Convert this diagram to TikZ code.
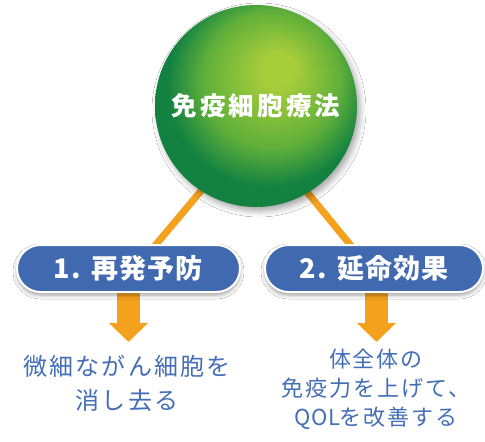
\documentclass[tikz,border=0pt]{standalone}
\usepackage{fontspec}
\newfontfamily\jp[LetterSpace=4]{Noto Sans CJK JP}
\newfontfamily\jptitle[LetterSpace=12]{Noto Sans CJK JP}
\newfontfamily\jpcapL[LetterSpace=9]{Noto Sans CJK JP}
\newfontfamily\jpcapR[LetterSpace=9]{Noto Sans CJK JP}
\usetikzlibrary{arrows.meta,shadows.blur,backgrounds}
\definecolor{ballin}{HTML}{A8CD3A}
\definecolor{ballmid}{HTML}{5FAF3A}
\definecolor{ballout}{HTML}{138241}
\definecolor{pillblue}{HTML}{4169B0}
\definecolor{orangec}{HTML}{F4A11E}
\definecolor{textblue}{HTML}{446FB6}
\pgfdeclareradialshading{greenball}{\pgfpoint{6bp}{10bp}}{color(0bp)=(ballin); color(4bp)=(ballin); color(17bp)=(ballmid); color(25bp)=(ballout); color(50bp)=(ballout)}
\begin{document}
\begin{tikzpicture}[x=1pt,y=-1pt,
  ball/.style={circle, minimum size=202pt, inner sep=0pt, shading=greenball, text=white,
    font=\jptitle\bfseries\fontsize{25.5}{30}\selectfont,
    blur shadow={shadow xshift=3pt, shadow yshift=-4pt, shadow blur radius=6pt, shadow opacity=35}},
  pill/.style={rounded corners=23.5pt, fill=pillblue, draw=white, line width=2pt,
    minimum height=47pt, inner sep=0pt, text=white,
    font=\jp\bfseries\fontsize{27}{30}\selectfont,
    blur shadow={shadow xshift=0pt, shadow yshift=-3pt, shadow blur radius=4pt, shadow opacity=40}},
  conn/.style={draw=orangec, line width=7pt},
  bigarrow/.style={draw=orangec, fill=orangec, line width=23pt, -{Triangle[width=38pt,length=19pt]}},
  caption/.style={text=textblue, align=center, inner sep=0pt}
]
\useasboundingbox (0,0) rectangle (485,442);
\node[ball] (center) at (256,106) {免疫細胞療法};
\node[pill, minimum width=223pt] (pillL) at (128.5,268.5) {1.\hspace{0.4em}再発予防};
\node[pill, minimum width=218pt] (pillR) at (374,268.5) {2.\hspace{0.4em}延命効果};
\node[caption, font=\jpcapL\fontsize{24}{34}\selectfont] (txtL) at (127,383) {微細ながん細胞を\\消し去る};
\node[caption, font=\jpcapR\fontsize{22}{29}\selectfont] (txtR) at (376,389) {体全体の\\免疫力を上げて、\\{\fontspec{Noto Sans CJK JP}[LetterSpace=3]QOL}を改善する};
\coordinate (cLa) at (235.3,150);
\coordinate (cLb) at (143,260);
\coordinate (cRa) at (272.7,150);
\coordinate (cRb) at (362.7,260);
\coordinate (tipL) at (128.5,342);
\coordinate (tipR) at (376.5,342);
\begin{scope}[on background layer]
  \fill[white] (0,0) rectangle (485,442);
  \draw[conn] (cLa) -- (cLb);
  \draw[conn] (cRa) -- (cRb);
  \draw[bigarrow] (pillL.center |- 0,280) -- (tipL);
  \draw[bigarrow] (tipR |- 0,280) -- (tipR);
\end{scope}
\end{tikzpicture}
\end{document}
